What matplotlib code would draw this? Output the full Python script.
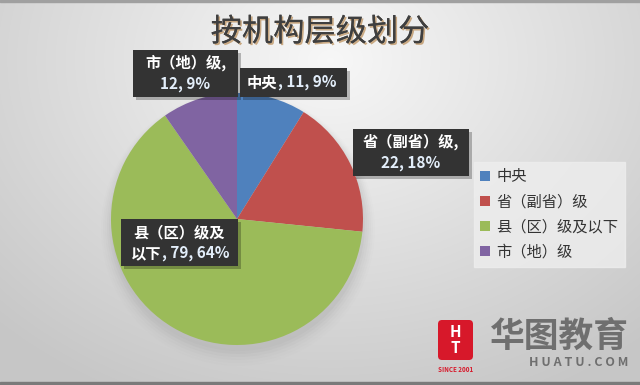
import numpy as np
import matplotlib
matplotlib.use("Agg")
import matplotlib.pyplot as plt
from matplotlib.patches import Rectangle, FancyBboxPatch
import matplotlib.patheffects as pe

plt.rcParams['font.family'] = ['Noto Sans CJK SC', 'DejaVu Sans']

title = "按机构层级划分"
categories = ["中央", "省（副省）级", "县（区）级及以下", "市（地）级"]
values = [11, 22, 79, 12]
pct_labels = ["9%", "18%", "64%", "9%"]
colors = ["#4f81bd", "#c0504d", "#9bbb59", "#8064a2"]

W, H = 640, 385
fig = plt.figure(figsize=(W / 100, H / 100), dpi=100)

# background gradient
bg = fig.add_axes([0, 0, 1, 1])
yy, xx = np.mgrid[0:H, 0:W]
d = np.sqrt(((xx - 330) / 420.0) ** 2 + ((yy - 60) / 330.0) ** 2)
g = np.clip(0.97 - 0.17 * d, 0.78, 0.97)
bg.imshow(np.dstack([g, g, g]), extent=[0, W, H, 0], aspect='auto', zorder=0)
bg.set_xlim(0, W)
bg.set_ylim(H, 0)
bg.axis('off')
bg.add_patch(Rectangle((0, H - 3), W, 3, color='#7a7a7a', zorder=1))
bg.add_patch(Rectangle((0, 0), W, 1.5, color='#a0a0a0', zorder=1))

# title
bg.text(320, 32, title, fontsize=22.5, color='#3f3f3f', ha='center', va='center',
        path_effects=[pe.withSimplePatchShadow(offset=(1.2, -1.2), shadow_rgbFace='#b07a3a', alpha=0.6),
                      pe.Normal()], zorder=5)

# pie shadow
cx, cy, r = 237, 219, 126
for i, a in enumerate(np.linspace(0.06, 0.015, 6)):
    bg.add_patch(plt.Circle((cx + 1, cy + 5 + i), r + 1 + i * 2, color='#808080', alpha=a, lw=0, zorder=2))

ax = fig.add_axes([(cx - r) / W, (H - cy - r) / H, 2 * r / W, 2 * r / H])
wedges, _ = ax.pie(values, colors=colors, startangle=90, counterclock=False, radius=1,
                   wedgeprops=dict(linewidth=0))
ax.set_xlim(-1, 1)
ax.set_ylim(-1, 1)
ax.set_aspect('auto')
ax.axis('off')

# legend
leg = ax.legend(wedges, categories, loc='upper left',
                bbox_to_anchor=(474 / W, 1 - 162 / H), bbox_transform=fig.transFigure,
                frameon=True, fancybox=False, facecolor='#eeeeee', edgecolor='#eeeeee',
                fontsize=11, handlelength=0.6, handleheight=0.6, handletextpad=0.45,
                labelspacing=0.52, borderpad=0.42, borderaxespad=0)
for t in leg.get_texts():
    t.set_color('#333333')

# overlay for data labels
ov = fig.add_axes([0, 0, 1, 1], zorder=10)
ov.set_xlim(0, W)
ov.set_ylim(H, 0)
ov.axis('off')
ov.patch.set_alpha(0)

# data labels (box pixel coords: x0, y0, x1, y1, lines)
label_boxes = [
    (240, 68, 347, 97, 1),
    (353, 129, 469, 176, 2),
    (121, 219, 238, 266, 2),
    (133, 50, 238, 97, 2),
]
first_lines = ["中央", "省（副省）级,", "县（区）级及", "市（地）级,"]
second_lines = [None, None, "以下", None]
fs = 11
for i, (x0, y0, x1, y1, n) in enumerate(label_boxes):
    ov.add_patch(Rectangle((x0 + 3, y0 + 3), x1 - x0, y1 - y0, color='#000000', alpha=0.25, lw=0, zorder=6))
    ov.add_patch(Rectangle((x0, y0), x1 - x0, y1 - y0, color='#333333', lw=0, zorder=7))
    xc = (x0 + x1) / 2
    num = f"{values[i]}, {pct_labels[i]}"
    if n == 1:
        t = ov.text(x0 + 7, (y0 + y1) / 2, categories[i], fontsize=fs, color='white',
                    fontweight='bold', ha='left', va='center', zorder=8)
        ov.annotate(", " + num, xy=(1, 0.5), xycoords=t, fontsize=fs, color='#e3eefa',
                    fontweight='bold', ha='left', va='center', zorder=8)
    elif second_lines[i] is None:
        ov.text(xc, y0 + 13, first_lines[i], fontsize=fs, color='white', fontweight='bold',
                ha='center', va='center', zorder=8)
        ov.text(xc, y0 + 34, num, fontsize=fs, color='#e3eefa', fontweight='bold',
                ha='center', va='center', zorder=8)
    else:
        ov.text(xc, y0 + 13, first_lines[i], fontsize=fs, color='white', fontweight='bold',
                ha='center', va='center', zorder=8)
        t = ov.text(x0 + 10, y0 + 34, second_lines[i], fontsize=fs, color='white', fontweight='bold',
                    ha='left', va='center', zorder=8)
        ov.annotate(", " + num, xy=(1, 0.5), xycoords=t, fontsize=fs, color='#e3eefa',
                    fontweight='bold', ha='left', va='center', zorder=8)

# logo
ov.add_patch(FancyBboxPatch((438, 320), 35, 40, boxstyle='round,pad=0,rounding_size=4',
                            color='#d7182a', lw=0, zorder=5))
ov.text(455.5, 340, "H\nT", fontsize=11, color='white', fontweight='bold', ha='center', va='center',
        linespacing=0.95, zorder=6)
ov.text(455.5, 369, "SINCE 2001", fontsize=4.5, color='#d7182a', fontweight='bold', ha='center', va='center', zorder=6)
ov.text(559, 336, "华图教育", fontsize=25, color='#6f6f6f', fontweight='bold', ha='center', va='center', zorder=6)
ov.text(579, 362, "H U A T U . C O M", fontsize=9, color='#6f6f6f', fontweight='bold', ha='center', va='center', zorder=6)

fig.savefig("out.png", dpi=100)
